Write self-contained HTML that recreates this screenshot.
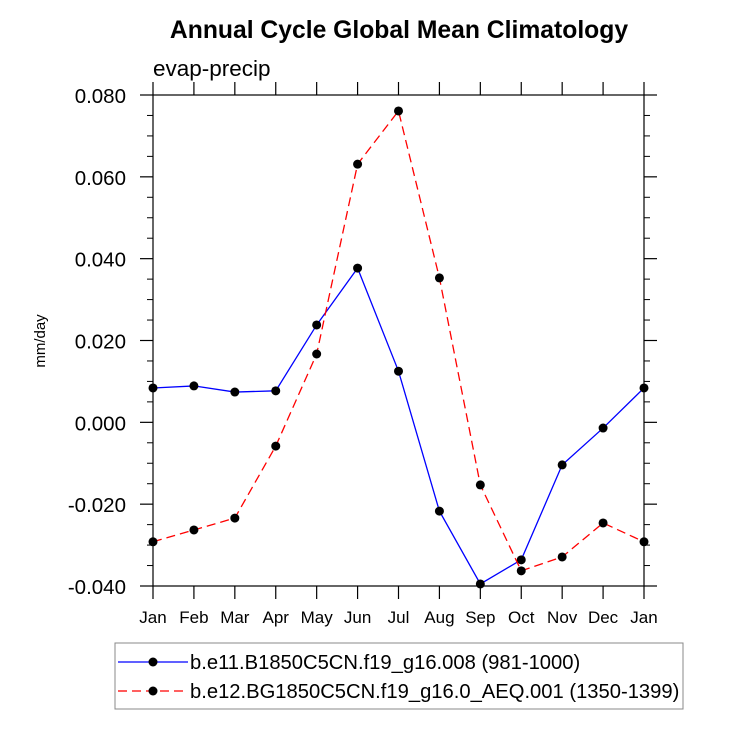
<!DOCTYPE html>
<html><head><meta charset="utf-8"><style>body{margin:0;background:#fff}svg{display:block;font-family:"Liberation Sans",Arial,sans-serif}</style></head>
<body>
<svg id="chart" width="729" height="729">
<text x="399" y="38" text-anchor="middle" font-size="24.7" font-weight="bold">Annual Cycle Global Mean Climatology</text>
<text x="153" y="76" font-size="22.5">evap-precip</text>
<text transform="translate(45,341) rotate(-90)" text-anchor="middle" font-size="15">mm/day</text>
<rect x="153" y="95" width="491" height="491" fill="none" stroke="#000" stroke-width="1.2"/>
<g id="axes"></g>
<g id="series"></g>
<rect x="115" y="643" width="568" height="66" fill="none" stroke="#888" stroke-width="1"/>
<g>
<line x1="118" y1="662" x2="188" y2="662" stroke="#0000ff" stroke-width="1.3"/>
<circle cx="153" cy="662" r="4.5" fill="#000"/>
<text x="190" y="669" font-size="20.2">b.e11.B1850C5CN.f19_g16.008 (981-1000)</text>
</g>
<g>
<line x1="118" y1="691" x2="188" y2="691" stroke="#ff0000" stroke-width="1.3" stroke-dasharray="9,5"/>
<circle cx="153" cy="691" r="4.5" fill="#000"/>
<text x="190" y="698" font-size="20.2">b.e12.BG1850C5CN.f19_g16.0_AEQ.001 (1350-1399)</text>
</g>
</svg>
<script>
const months=["Jan","Feb","Mar","Apr","May","Jun","Jul","Aug","Sep","Oct","Nov","Dec","Jan"];
const blueValues=[0.0084,0.0089,0.0074,0.0077,0.0238,0.0377,0.0125,-0.0217,-0.0395,-0.0336,-0.0104,-0.0014,0.0084];
const redValues=[-0.0292,-0.0263,-0.0234,-0.0058,0.0167,0.0631,0.0761,0.0353,-0.0153,-0.0363,-0.0329,-0.0246,-0.0292];
const yTicks=[-0.04,-0.02,0,0.02,0.04,0.06,0.08];
const yTickLabels=["-0.040","-0.020","0.000","0.020","0.040","0.060","0.080"];
const NS="http://www.w3.org/2000/svg";
const X0=153,X1=644,Y0=586,Y1=95,ymin=-0.04,ymax=0.08;
const xs=i=>X0+(X1-X0)*i/(months.length-1);
const ys=v=>Y0-(v-ymin)/(ymax-ymin)*(Y0-Y1);
function mk(tag,attrs,parent){const e=document.createElementNS(NS,tag);for(const k in attrs)e.setAttribute(k,attrs[k]);parent.appendChild(e);return e;}
const ax=document.getElementById('axes');
months.forEach((m,i)=>{
 const x=xs(i);
 const t=mk('line',{x1:x,x2:x,y1:Y0,y2:Y0+13,stroke:'#000','stroke-width':1.2},ax);
 
 
 const t2=mk('line',{x1:x,x2:x,y1:Y1,y2:Y1-13,stroke:'#000','stroke-width':1.2},ax);
 
 
 const l=mk('text',{x:x,y:Y0+37,'text-anchor':'middle','font-size':17},ax);
 l.textContent=m;
 
 
});
yTicks.forEach((v,i)=>{
 const y=ys(v);
 [[X0,X0-13],[X1,X1+13]].forEach(p=>{
  const t=mk('line',{x1:p[0],x2:p[1],y1:y,y2:y,stroke:'#000','stroke-width':1.2},ax);
  
  
 });
 const l=mk('text',{x:X0-27,y:y+8,'text-anchor':'end','font-size':20.5},ax);
 l.textContent=yTickLabels[i];
 
 
 if(i<yTicks.length-1){for(let k=1;k<4;k++){const ym=ys(v+0.005*k);
  [[X0,X0-6],[X1,X1+6]].forEach(p=>{
   const t=mk('line',{x1:p[0],x2:p[1],y1:ym,y2:ym,stroke:'#000','stroke-width':1},ax);
   
   
  });}}
});
const sg=document.getElementById('series');
function drawSeries(vals,color,dash,name){
 const pts=vals.map((v,i)=>xs(i)+','+ys(v)).join(' ');
 const pl=mk('polyline',{points:pts,fill:'none',stroke:color,'stroke-width':1.3,'stroke-dasharray':dash},sg);
 
 
 vals.forEach((v,i)=>{
  const c=mk('circle',{cx:xs(i),cy:ys(v),r:4.5,fill:'#000'},sg);
  
  
 });
}
drawSeries(blueValues,'#0000ff','none','blue-series');
drawSeries(redValues,'#ff0000','9,5','red-series');
</script>
</body></html>
